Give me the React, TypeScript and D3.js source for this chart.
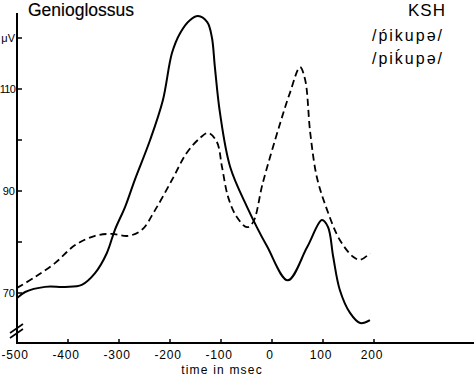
import React from "react";
import * as d3 from "d3";

const solidT = [-500, -484, -445, -406, -373, -347, -324, -308, -288, -269, -239, -214, -196, -180, -161, -145, -127, -118, -112, -102, -82, -49, -10, 31, 69, 98, 110, 120, 133, 153, 173, 192];
const solidV = [69.0, 70.2, 71.2, 71.2, 71.6, 73.9, 77.8, 82.4, 86.9, 92.2, 100.0, 107.8, 117.1, 121.0, 123.5, 124.3, 123.1, 120.2, 114.3, 105.3, 94.7, 86.9, 79.2, 72.5, 79.0, 84.3, 82.9, 77.1, 70.6, 66.1, 64.1, 64.7];
const dashT = [-500, -465, -425, -386, -347, -314, -282, -255, -229, -196, -167, -141, -125, -108, -98, -86, -69, -49, -37, -18, 16, 35, 55, 65, 75, 88, 108, 133, 159, 173, 192];
const dashV = [71.0, 73.1, 75.9, 79.4, 81.2, 81.6, 81.2, 82.4, 86.3, 92.2, 97.5, 100.4, 101.4, 99.6, 94.7, 88.8, 84.9, 82.9, 83.9, 91.6, 103.3, 109.2, 114.3, 111.8, 101.4, 92.7, 86.3, 80.4, 77.1, 76.5, 77.8];
const xTicks = [-500, -400, -300, -200, -100, 0, 100, 200];
const yLabelTicks = [70, 90, 110];
const yMinorTicks = [80, 100, 120];

const W = 474, H = 377;
const FONT = "'Liberation Sans', Arial, sans-serif";

export default function App() {
  const x = d3.scaleLinear().domain([-500, 200]).range([17, 374]);
  const y = d3.scaleLinear().domain([70, 120]).range([293, 38]);
  const line = d3
    .line<[number, number]>()
    .x((d) => x(d[0]))
    .y((d) => y(d[1]))
    .curve(d3.curveCatmullRom.alpha(0.5));
  const solid = solidT.map((t, i) => [t, solidV[i]] as [number, number]);
  const dash = dashT.map((t, i) => [t, dashV[i]] as [number, number]);
  const x0 = x(-500);
  const axisY = 343;

  return (
    <svg width={W} height={H} style={{ position: "absolute", left: 0, top: 0, background: "#fff" }}>
      <rect x={0} y={0} width={W} height={H} fill="#fff" />
      {/* axes */}
      <line x1={x0} y1={13} x2={x0} y2={axisY} stroke="#000" strokeWidth={2} />
      <line x1={x0 - 1} y1={axisY} x2={W} y2={axisY} stroke="#000" strokeWidth={2} />
      {/* axis break */}
      <line x1={10} y1={333} x2={23} y2={324} stroke="#000" strokeWidth={1.6} />
      <line x1={10} y1={338} x2={23} y2={329} stroke="#000" strokeWidth={1.6} />
      {/* y ticks */}
      {[...yLabelTicks, ...yMinorTicks].map((v) => (
        <line key={"yt" + v} x1={x0} y1={y(v)} x2={x0 + 5} y2={y(v)} stroke="#000" strokeWidth={1.5} />
      ))}
      {yLabelTicks.map((v) => (
        <text key={"yl" + v} x={15} y={y(v) + 4} textAnchor="end" fontFamily={FONT} fontSize={11} letterSpacing={v >= 100 ? -0.8 : 0} fill="#000">
          {v}
        </text>
      ))}
      <text x={15} y={y(120) + 4} textAnchor="end" fontFamily={FONT} fontSize={11} fill="#000">
        μV
      </text>
      {/* x ticks */}
      {xTicks.map((t) => (
        <g key={"xt" + t}>
          {t !== -500 && <line x1={x(t)} y1={axisY} x2={x(t)} y2={axisY - 4} stroke="#000" strokeWidth={1.5} />}
          <text x={x(t) - 2} y={359} textAnchor="middle" fontFamily={FONT} fontSize={12} letterSpacing={0.8} fill="#000">
            {t === 0 ? "0" : t < 0 ? "-" + Math.abs(t) : String(t)}
          </text>
        </g>
      ))}
      <text x={222} y={374} textAnchor="middle" fontFamily={FONT} fontSize={12} letterSpacing={1.2} fill="#000">
        time in msec
      </text>
      {/* curves */}
      <path d={line(dash) || ""} fill="none" stroke="#000" strokeWidth={1.8} strokeDasharray="7,4" />
      <path d={line(solid) || ""} fill="none" stroke="#000" strokeWidth={2} />
      {/* labels */}
      <text x={28} y={16} fontFamily={FONT} fontSize={17.5} stroke="#000" strokeWidth={0.15} fill="#000">
        Genioglossus
      </text>
      <text x={446} y={16} textAnchor="end" fontFamily={FONT} fontSize={17} letterSpacing={1} fill="#000">
        KSH
      </text>
      <text x={444} y={41} textAnchor="end" fontFamily={FONT} fontSize={16} letterSpacing={2} fill="#000">
        {"/p\u0301ikupə/"}
      </text>
      <text x={444} y={64} textAnchor="end" fontFamily={FONT} fontSize={16} letterSpacing={2} fill="#000">
        {"/pik\u0301upə/"}
      </text>
    </svg>
  );
}
